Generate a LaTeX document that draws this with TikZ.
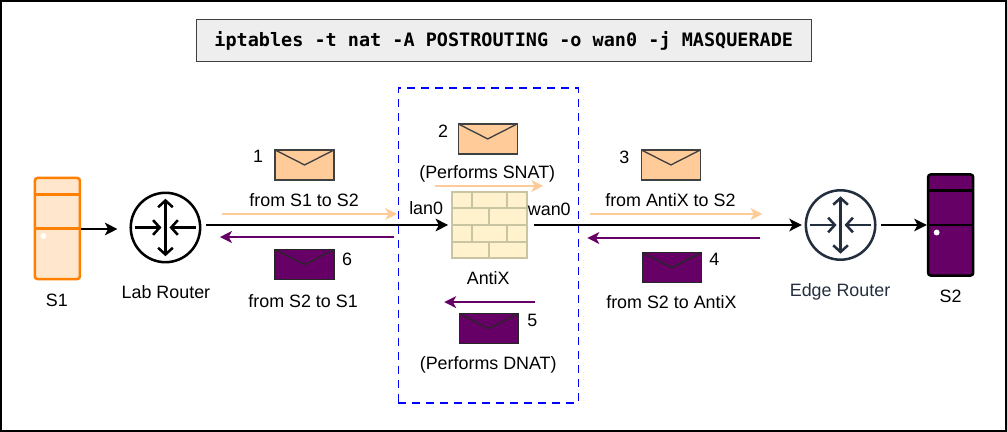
\documentclass[tikz,border=0pt]{standalone}
\usepackage{fontspec}
\setmainfont{Liberation Sans}
\setmonofont{DejaVu Sans Mono}
\usetikzlibrary{arrows.meta, calc}
\definecolor{msgorange}{HTML}{FFCC99}
\definecolor{msgpurple}{HTML}{660066}
\definecolor{srvorange}{HTML}{FF8000}
\definecolor{srvfill}{HTML}{FFE6CC}
\definecolor{edgeblue}{HTML}{232F3E}
\definecolor{brickfill}{HTML}{FFF2CC}
\definecolor{brickline}{HTML}{C9C5A2}
\definecolor{cmdfill}{HTML}{EEEEEE}
\def\bb{path picture bounding box}

\begin{document}
\begin{tikzpicture}[
    x=0.75pt, y=-0.75pt,
    label/.style={inner sep=0pt, font=\fontsize{13.4}{16}\selectfont},
    arrow/.style={-{Stealth[length=9.5pt, width=9.5pt, inset=2.5pt]}, line width=1.1pt},
    msgarrow/.style={-{Stealth[length=9pt, width=9pt, inset=2.5pt]}, line width=1.1pt},
    envelope/.style 2 args={rectangle, draw=#2, fill=#1, line width=1pt, inner sep=0pt,
        minimum width=44.25pt, minimum height=22.5pt,
        path picture={\draw[#2, line width=1pt] (\bb.north west) -- (\bb.center) -- (\bb.north east);}},
    server/.style 2 args={rectangle, rounded corners=2pt, draw=#1, fill=#2, line width=1.9pt, inner sep=0pt,
        minimum width=33.75pt, minimum height=75.75pt,
        path picture={
            \draw[#1, line width=1.9pt] ([yshift=-12.2pt]\bb.north west) -- ([yshift=-12.2pt]\bb.north east);
            \draw[#1, line width=1.9pt] (\bb.west) -- (\bb.east);
            \fill[white] ([shift={(8.5,7.5)}]\bb.west) circle (2.2pt);}},
    router/.style={circle, draw=#1, line width=1.9pt, inner sep=0pt, minimum size=52pt,
        path picture={
            \draw[#1, line width=1.9pt, {Straight Barb[length=5pt, width=11pt]}-{Straight Barb[length=5pt, width=11pt]}]
                ([yshift=21.5pt]\bb.center) -- ([yshift=-21.5pt]\bb.center);
            \draw[#1, line width=1.9pt, -{Straight Barb[length=5pt, width=11pt]}] ([xshift=-23pt]\bb.center) -- ([xshift=-3pt]\bb.center);
            \draw[#1, line width=1.9pt, -{Straight Barb[length=5pt, width=11pt]}] ([xshift=23pt]\bb.center) -- ([xshift=3pt]\bb.center);}},
    firewall/.style={rectangle, draw=brickline, fill=brickfill, line width=1.5pt, inner sep=0pt,
        minimum width=56pt, minimum height=49pt,
        path picture={
            \foreach \yrow in {-12.5, 0, 12.5}
                \draw[brickline, line width=1.5pt] ([yshift=\yrow pt]\bb.west) -- ([yshift=\yrow pt]\bb.east);
            \foreach \yrow in {18.75, -6.25} {
                \draw[brickline, line width=1.5pt] ([shift={(-13pt,\yrow pt+6.25pt)}]\bb.center) -- ++(0,16.7);
                \draw[brickline, line width=1.5pt] ([shift={(13pt,\yrow pt+6.25pt)}]\bb.center) -- ++(0,16.7);
                \draw[brickline, line width=1.5pt] ([shift={(0pt,\yrow pt-6.25pt)}]\bb.center) -- ++(0,16.7);}}}
]

\draw[line width=1.2pt] (1,1) rectangle (1005.5,431) node[pos=0.5, inner sep=0pt] (frame) {};

\node[rectangle, draw=black!75, fill=cmdfill, line width=0.8pt, minimum width=461pt, minimum height=31.5pt, inner sep=0pt,
    font=\ttfamily\bfseries\fontsize{13.85}{16}\selectfont] (cmd) at (503.5,41) {iptables -t nat -A POSTROUTING -o wan0 -j MASQUERADE};

\node[rectangle, draw=blue, dashed, line width=0.9pt, dash pattern=on 6pt off 4.5pt, minimum width=135pt, minimum height=236pt, inner sep=0pt] (antixzone) at (488,245.5) {};

\node[server={srvorange}{srvfill}] (s1) at (57.5,228.5) {};
\node[server={black}{msgpurple}] (s2) at (950,225) {};
\node[router=black] (labrouter) at (165.5,227.5) {};
\node[router=edgeblue] (edgerouter) at (840,225) {};
\node[firewall] (antix) at (489,225) {};

\node[label] (s1label) at (57,300) {S1};
\node[label] (s2label) at (950,296) {S2};
\node[label] (lablabel) at (166,292.5) {Lab Router};
\node[label, text=edgeblue] (edgelabel) at (839.5,292) {Edge Router};
\node[label] (antixlabel) at (488,278) {AntiX};
\node[label] (lan) at (426,208) {lan0};
\node[label] (wan) at (549,209) {wan0};

\node[envelope={msgorange}{black!75}] (msg1) at (304.5,165) {};
\node[envelope={msgorange}{black!75}] (msg2) at (487.5,139) {};
\node[envelope={msgorange}{black!75}] (msg3) at (670.5,165) {};
\node[envelope={msgpurple}{black!85}] (msg4) at (671.5,267.5) {};
\node[envelope={msgpurple}{black!85}] (msg5) at (488.5,328.5) {};
\node[envelope={msgpurple}{black!85}] (msg6) at (304.5,264.5) {};

\node[label] (num1) at (258,156) {1};
\node[label] (num2) at (443,131) {2};
\node[label] (num3) at (624,157) {3};
\node[label] (num4) at (714,259) {4};
\node[label] (num5) at (532,320) {5};
\node[label] (num6) at (347,259) {6};

\node[label] (from1) at (304,200) {from S1 to S2};
\node[label] (from3) at (670,200) {from AntiX to S2};
\node[label] (from4) at (671,302) {from S2 to AntiX};
\node[label] (from6) at (303,301) {from S2 to S1};
\node[label] (snat) at (487,174) {(Performs SNAT)};
\node[label] (dnat) at (488,365) {(Performs DNAT)};

\coordinate (o1a) at (222,214);
\coordinate (o1b) at (397,214);
\coordinate (p1a) at (394,237);
\coordinate (p1b) at (220,237);
\coordinate (o2a) at (590,214);
\coordinate (o2b) at (762,214);
\coordinate (p2a) at (760,238);
\coordinate (p2b) at (587,238);
\coordinate (o3a) at (435,186);
\coordinate (o3b) at (543,186);
\coordinate (p3a) at (535,302);
\coordinate (p3b) at (444,302);

\draw[arrow, shorten >=9pt] (s1.east |- labrouter) ++(0,1.5) coordinate (s1out) -- (s1out -| labrouter.west);
\draw[arrow, shorten <=3.5pt, shorten >=2pt] (labrouter.east |- antix) -- (antix.west);
\draw[arrow, shorten <=5pt, shorten >=2pt] (antix.east) -- (edgerouter.west);
\draw[arrow, shorten <=3.5pt] (edgerouter.east) -- (s2.west);

\draw[msgarrow, draw=msgorange, fill=msgorange] (o1a) -- (o1b);
\draw[msgarrow, draw=msgorange, fill=msgorange] (o2a) -- (o2b);
\draw[msgarrow, draw=msgorange, fill=msgorange] (o3a) -- (o3b);
\draw[msgarrow, draw=msgpurple, fill=msgpurple] (p1a) -- (p1b);
\draw[msgarrow, draw=msgpurple, fill=msgpurple] (p2a) -- (p2b);
\draw[msgarrow, draw=msgpurple, fill=msgpurple] (p3a) -- (p3b);

\end{tikzpicture}
\end{document}
